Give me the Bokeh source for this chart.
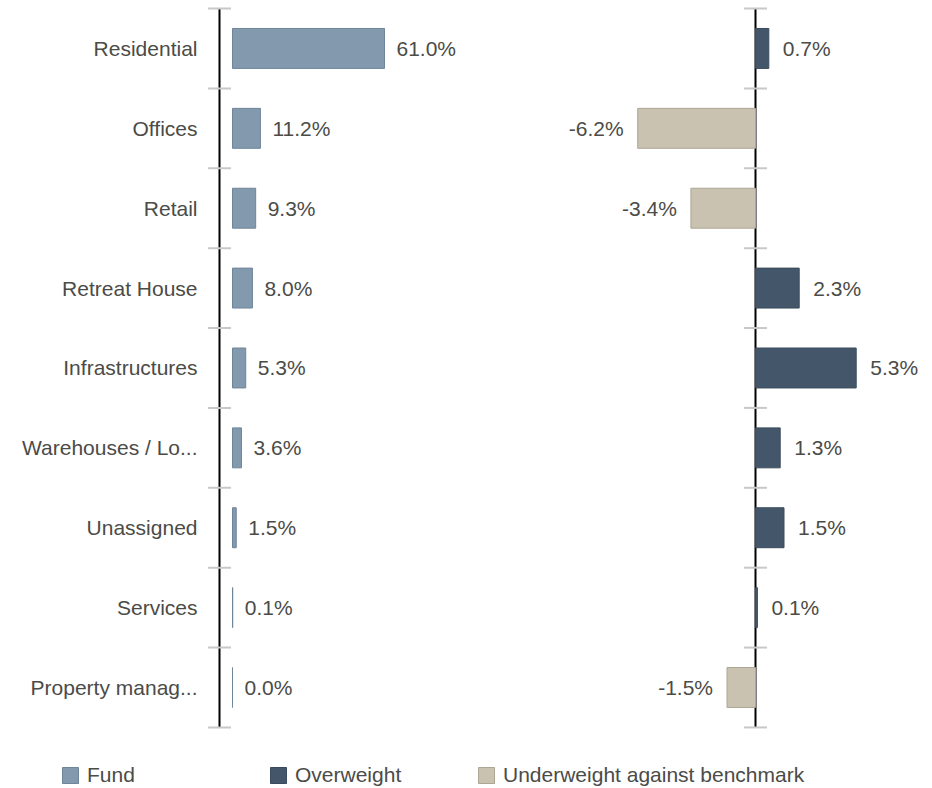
from bokeh.plotting import figure
from bokeh.models import Range1d, ColumnDataSource, Legend, LegendItem
from bokeh.core.properties import value
from bokeh.embed import file_html
from bokeh.resources import INLINE

categories = ["Residential", "Offices", "Retail", "Retreat House", "Infrastructures",
              "Warehouses / Lo...", "Unassigned", "Services", "Property manag..."]
fund = [61.0, 11.2, 9.3, 8.0, 5.3, 3.6, 1.5, 0.1, 0.0]
relative = [0.7, -6.2, -3.4, 2.3, 5.3, 1.3, 1.5, 0.1, -1.5]
legend_labels = ["Fund", "Overweight", "Underweight against benchmark"]

FUND_C = "#8399ad"
FUND_L = "#6f8599"
OVER_C = "#44576a"
OVER_L = "#3a4b5c"
UNDER_C = "#c9c2b0"
UNDER_L = "#ada695"
TXT = "#4b4b47"
FONT = "Liberation Sans"
FS = "21px"

W, H = 932, 788
BAR0_L = 232       # pixel of zero for fund bars
AXIS_L = 219       # pixel of left axis line
PPU_L = 152 / 61.0
AXIS_R = 755
PPU_R = 19.0
TOP_PAD = 8 / 79.8
BOT_PAD = 61 / 79.8

n = len(categories)
ypos = [i + 0.5 for i in range(n)]

p = figure(width=W, height=H, output_backend="svg", toolbar_location=None,
           x_range=Range1d(-BAR0_L / PPU_L, (W - BAR0_L) / PPU_L),
           y_range=Range1d(n + BOT_PAD, -TOP_PAD),
           min_border=0)
p.extra_x_ranges = {"right": Range1d(-AXIS_R / PPU_R, (W - AXIS_R) / PPU_R)}
p.outline_line_color = None
p.grid.visible = False
p.axis.visible = False
p.background_fill_color = "white"
p.border_fill_color = "white"

ax_left = (AXIS_L - BAR0_L) / PPU_L
bounds = list(range(n + 1))

# axis lines
p.segment(x0=[ax_left], x1=[ax_left], y0=[0], y1=[n], line_color="black", line_width=2)
p.segment(x0=[0], x1=[0], y0=[0], y1=[n], line_color="black", line_width=2,
          x_range_name="right")
# boundary ticks
p.scatter(x=[ax_left] * (n + 1), y=bounds, marker="dash", size=23,
          line_color="#c8c8c8", line_width=2, fill_color=None)
p.scatter(x=[0] * (n + 1), y=bounds, marker="dash", size=23,
          line_color="#c8c8c8", line_width=2, fill_color=None, x_range_name="right")

# category labels
p.text(x=[ax_left] * n, y=ypos, text=categories, x_offset=-22,
       text_align="right", text_baseline="middle", text_font=value(FONT),
       text_font_size=FS, text_color=TXT)

# fund bars
src_f = ColumnDataSource(dict(y=ypos, val=fund, lab=[f"{v:.1f}%" for v in fund]))
rf = p.hbar(y="y", left=0, right="val", height=0.5, source=src_f,
            fill_color=FUND_C, line_color=FUND_L, line_width=1)
p.text(x="val", y="y", text="lab", source=src_f, x_offset=12,
       text_align="left", text_baseline="middle", text_font=value(FONT),
       text_font_size=FS, text_color=TXT)

# relative bars
pos = [(y, v) for y, v in zip(ypos, relative) if v >= 0]
neg = [(y, v) for y, v in zip(ypos, relative) if v < 0]
src_p = ColumnDataSource(dict(y=[a for a, _ in pos], val=[b for _, b in pos],
                              lab=[f"{b:.1f}%" for _, b in pos]))
src_n = ColumnDataSource(dict(y=[a for a, _ in neg], val=[b for _, b in neg],
                              lab=[f"{b:.1f}%" for _, b in neg]))
ro = p.hbar(y="y", left=0, right="val", height=0.5, source=src_p,
            fill_color=OVER_C, line_color=OVER_L, x_range_name="right")
ru = p.hbar(y="y", left=0, right="val", height=0.5, source=src_n,
            fill_color=UNDER_C, line_color=UNDER_L, x_range_name="right")
p.text(x="val", y="y", text="lab", source=src_p, x_offset=14, x_range_name="right",
       text_align="left", text_baseline="middle", text_font=value(FONT),
       text_font_size=FS, text_color=TXT)
p.text(x="val", y="y", text="lab", source=src_n, x_offset=-14, x_range_name="right",
       text_align="right", text_baseline="middle", text_font=value(FONT),
       text_font_size=FS, text_color=TXT)

# legend
lg = Legend(items=[LegendItem(label=l, renderers=[r])
                   for l, r in zip(legend_labels, [rf, ro, ru])],
            location=(60, 1), orientation="horizontal",
            padding=0, margin=0, spacing=0, label_standoff=7,
            glyph_width=20, glyph_height=20, label_width=181,
            border_line_color=None, background_fill_alpha=0,
            label_text_font=FONT, label_text_font_size=FS,
            label_text_color=TXT, label_height=20)
p.add_layout(lg, "center")

open("out.html", "w").write(file_html(p, INLINE))
